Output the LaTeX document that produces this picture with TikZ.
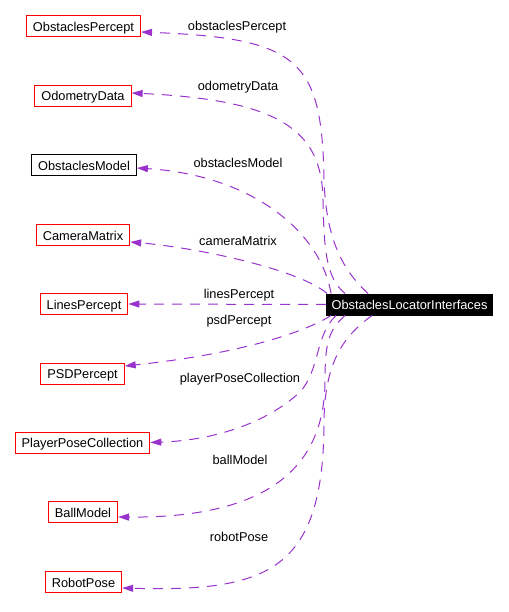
\documentclass[tikz,border=0pt]{standalone}
\usepackage{fontspec}
\setmainfont{Liberation Sans}
\usetikzlibrary{arrows.meta}
\definecolor{edgepurple}{RGB}{154,50,205}

\begin{document}
\begin{tikzpicture}[x=1pt,y=-1pt,
  box/.style={draw=red,line width=1pt,fill=white,inner xsep=6.5pt,inner ysep=0pt,text height=11pt,text depth=1pt,minimum height=21pt,font=\fontsize{12.8}{14}\selectfont},
  lbl/.style={font=\fontsize{12.8}{14}\selectfont},
  dep/.style={edgepurple,line width=1pt,dash pattern=on 10pt off 8pt,-{Triangle[length=11pt,width=7pt]}}]
\useasboundingbox (0,0) rectangle (508,612);
\node[box] (op) at (83.5,26.5) {ObstaclesPercept};
\node[box] (od) at (83,96) {OdometryData};
\node[box,draw=black] (om) at (84,165.5) {ObstaclesModel};
\node[box] (cm) at (83,235) {CameraMatrix};
\node[box] (lp) at (84,304) {LinesPercept};
\node[box] (psd) at (82.5,373.5) {PSDPercept};
\node[box] (ppc) at (82.5,442.5) {PlayerPoseCollection};
\node[box] (bm) at (83,512) {BallModel};
\node[box] (rp) at (83.5,582) {RobotPose};
\node[box,draw=black,fill=black,text=white,inner xsep=5pt] (src) at (409.5,304.5) {ObstaclesLocatorInterfaces};

\draw[dep] ([xshift=42pt]src.north west) .. controls (340,268) and (326,235) .. (324,180) .. controls (322,60) and (300,38) .. ([yshift=-5.5pt]op.east);
\draw[dep] ([xshift=19pt]src.north west) .. controls (326,278) and (324,250) .. (323,200) .. controls (322,130) and (280,100) .. ([yshift=3pt]od.east);
\draw[dep] ([xshift=5pt]src.north west) .. controls (320,230) and (250,175) .. ([yshift=-2.5pt]om.east);
\draw[dep] ([xshift=1pt]src.north west) .. controls (300,270) and (200,248) .. ([yshift=-7pt]cm.east);
\draw[dep] (src.west) -- (lp.east);
\draw[dep] ([xshift=5pt]src.south west) .. controls (300,335) and (230,355) .. ([yshift=7.5pt]psd.east);
\draw[dep] ([xshift=10pt]src.south west) .. controls (315,335) and (320,370) .. (300,392) .. controls (270,420) and (220,440) .. (ppc.east);
\draw[dep] ([xshift=19pt]src.south west) .. controls (328,330) and (325,345) .. (325,380) .. controls (325,480) and (250,518) .. ([yshift=-5pt]bm.east);
\draw[dep] ([xshift=46pt]src.south west) .. controls (345,335) and (325,360) .. (324,420) .. controls (324,570) and (270,592) .. ([yshift=-6pt]rp.east);

\node[lbl] (lop) at (237,27) {obstaclesPercept};
\node[lbl] (lod) at (238,87) {odometryData};
\node[lbl] (lom) at (238,163) {obstaclesModel};
\node[lbl] (lcm) at (238,241) {cameraMatrix};
\node[lbl] (llp) at (239,295) {linesPercept};
\node[lbl] (lpsd) at (239,321) {psdPercept};
\node[lbl] (lppc) at (240,379) {playerPoseCollection};
\node[lbl] (lbm) at (240,460) {ballModel};
\node[lbl] (lrp) at (239,537) {robotPose};

\end{tikzpicture}
\end{document}
